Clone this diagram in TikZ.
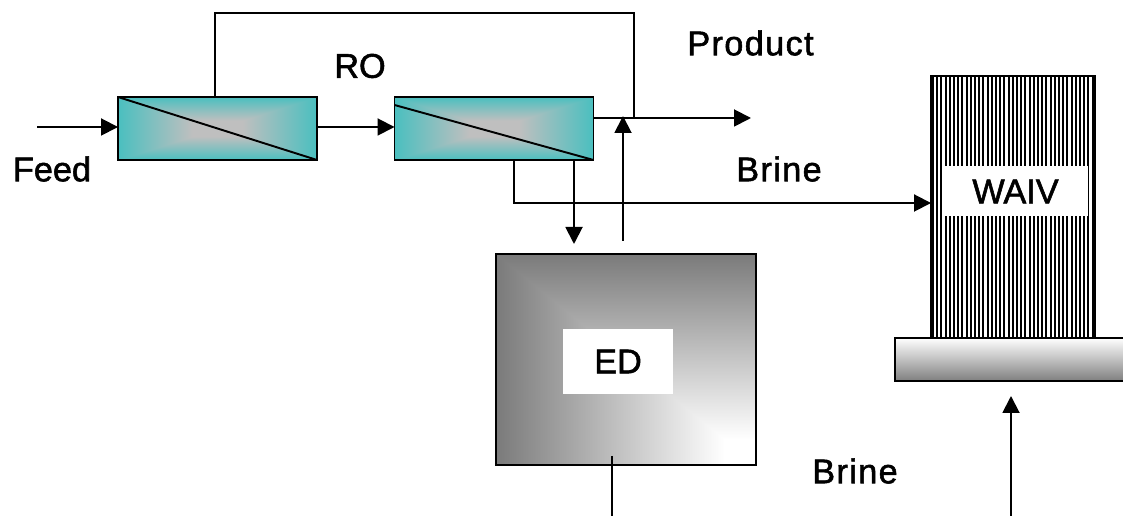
\documentclass[tikz,border=0pt]{standalone}
\usepackage{fontspec}
\setmainfont{Liberation Sans}
\newfontfamily\lblfont[FakeBold=1.6]{Liberation Sans}
\newfontfamily\widefont[FakeBold=1.6,LetterSpace=4]{Liberation Sans}
\usepackage{tikz}
\usetikzlibrary{arrows.meta}

\pgfdeclarefunctionalshading{roshade}{\pgfpoint{-50bp}{-50bp}}{\pgfpoint{50bp}{50bp}}{}{
	abs exch abs 2 copy lt {exch} if pop 25 div 0.25 sub 1.33 mul dup 0 lt {pop 0} if
	dup -0.46 mul 0.75 add exch pop 0.75 0.75
}
\pgfdeclarefunctionalshading{edshade}{\pgfpoint{-50bp}{-50bp}}{\pgfpoint{50bp}{50bp}}{}{
	25 add exch 25 exch sub 2 copy lt {exch} if pop 50 div
	0.12 sub 1.136 mul dup 0 lt {pop 0} if
	-0.52 mul 1 add dup dup
}

\tikzset{
	robox/.style={draw=black, line width=1.1pt, inner sep=0, outer sep=0, minimum width=3.98cm, minimum height=1.26cm, shading=roshade},
	edbox/.style={draw=black, line width=1.1pt, inner sep=0, outer sep=0, minimum width=5.2cm, minimum height=4.22cm, shading=edshade},
	tower/.style={draw=black, line width=1.1pt, inner sep=0, outer sep=0, minimum width=3.28cm, minimum height=5.24cm},
	plate/.style={draw=black, line width=1.1pt, inner sep=0, outer sep=0, minimum width=4.7cm, minimum height=0.86cm, top color=white, bottom color=black!50},
	tag/.style={fill=white, inner sep=0, outer sep=0, font=\lblfont\fontsize{19.5}{23}\selectfont},
	lbl/.style={inner sep=0, outer sep=0, font=\lblfont\fontsize{19.5}{23}\selectfont},
	widelbl/.style={inner sep=0, outer sep=0, font=\widefont\fontsize{19.5}{23}\selectfont},
	flow/.style={line width=1.1pt},
	arr/.style={line width=1.1pt, -{Triangle[length=0.34cm, width=0.34cm]}},
}

\begin{document}
\begin{tikzpicture}[x=0.02cm, y=-0.02cm]
	
	\useasboundingbox (0, 0) rectangle (1123, 516);
	
	\node[robox] (ro1) at (217.5, 128.5) {};
	\node[robox] (ro2) at (494, 128.5) {};
	\node[edbox] (ed) at (626, 359.5) {};
	\node[tower] (waiv) at (1013, 207) {};
	
	\foreach \i in {0,...,38}
		\draw[line width=1.2pt] (933 + 4.2*\i, 76) -- (933 + 4.2*\i, 338);
	\draw[line width=2.2pt] (932.5, 76) -- (932.5, 338);
	
	\node[plate] (base) at (1012.5, 359.5) {};
	\node[tag, minimum width=2.9cm, minimum height=1cm] (waivtag) at (1015.5, 191.5) {WAIV};
	\node[tag, minimum width=2.2cm, minimum height=1.3cm] (edtag) at (618, 361.5) {ED};
	
	\node[lbl] (feedlbl) at (52, 169) {Feed};
	\node[lbl] (rolbl) at (360, 66) {RO};
	\node[widelbl] (productlbl) at (750.5, 43) {Product};
	\node[widelbl] (brinelbl) at (779, 169) {Brine};
	\node[widelbl] (brinelbltwo) at (855, 471) {Brine};
	
	\coordinate (feed) at (37, 127);
	\coordinate (rec1) at (215, 13);
	\coordinate (rec2) at (634, 13);
	\coordinate (prod) at (751, 118);
	\coordinate (brine1) at (514, 203);
	\coordinate (edin) at (574, 244);
	\coordinate (edout) at (623, 241);
	\coordinate (edtop) at (623, 116);
	\coordinate (edfoot1) at (612, 456);
	\coordinate (edfoot2) at (612, 516);
	\coordinate (brine2) at (1011, 516);
	\coordinate (brine3) at (1011, 396);
	
	\draw[flow] (ro1.north west) -- (ro1.south east);
	\draw[flow] (ro2.west |- 0, 105) -- (ro2.south east);
	
	\path[arr] (feed) edge (feed -| ro1.west);
	\path[arr] (ro1.east |- feed) edge (ro2.west |- feed);
	\path[arr] (ro2.east |- prod) edge (prod);
	\path[arr] (edout) edge (edtop);
	\path[arr] (edin |- ro2.south) edge (edin);
	\path[arr] (brine2) edge (brine3);
	\path[flow] (edfoot1) edge (edfoot2);
	\draw[flow] (rec1 |- ro1.north) -- (rec1) -- (rec2) -- (rec2 |- prod);
	\draw[arr] (brine1 |- ro2.south) -- (brine1) -- (brine1 -| waiv.west);
	
\end{tikzpicture}
\end{document}
